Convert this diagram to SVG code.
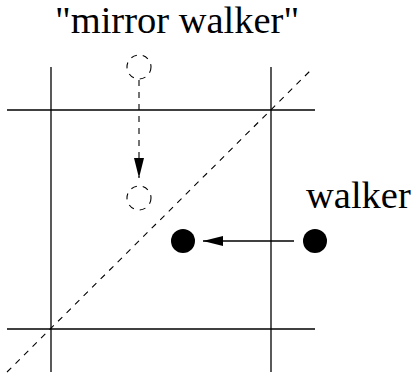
<svg xmlns="http://www.w3.org/2000/svg" width="414" height="374" viewBox="0 0 414 374">
<style>
.grid{stroke:#000;stroke-width:1.3;fill:none}
.dash{stroke:#000;stroke-width:1.1;fill:none;stroke-dasharray:6,6}
text{font-family:"Liberation Serif","Times New Roman",serif;font-size:38.5px;fill:#000}
</style>
<defs>
<marker id="ah2" markerWidth="20" markerHeight="10" refX="20" refY="5" orient="auto" markerUnits="userSpaceOnUse" viewBox="0 0 20 10">
<path d="M0,0 L20,5 L0,10 Z" fill="#000"/>
</marker>
</defs>
<g id="grid">
<line class="grid" x1="51" y1="67" x2="51" y2="372"/>
<line class="grid" x1="271" y1="67" x2="271" y2="372"/>
<line class="grid" x1="7" y1="110" x2="315" y2="110"/>
<line class="grid" x1="7" y1="329" x2="315" y2="329"/>
<line class="dash" x1="7" y1="372" x2="313" y2="68"/>
</g>
<g id="mirror-start"><circle class="dash" cx="139" cy="67" r="12" stroke-dasharray="5,5"/></g>
<g id="mirror-end"><circle class="dash" cx="139" cy="198" r="12" stroke-dasharray="5,5"/></g>
<g id="walker-end"><circle cx="183" cy="241" r="12" fill="#000"/></g>
<g id="walker-start"><circle cx="315" cy="241" r="12" fill="#000"/></g>
<g id="connectors">
<line class="dash" x1="139" y1="80" x2="139" y2="178" marker-end="url(#ah2)"/>
<line class="grid" x1="294" y1="241" x2="203" y2="241" marker-end="url(#ah2)"/>
</g>
<text id="label-mirror" x="55" y="33" font-family="Liberation Serif" font-size="38.5">"mirror walker"</text>
<text id="label-walker" x="306" y="208" font-family="Liberation Serif" font-size="38.5">walker</text>
</svg>
